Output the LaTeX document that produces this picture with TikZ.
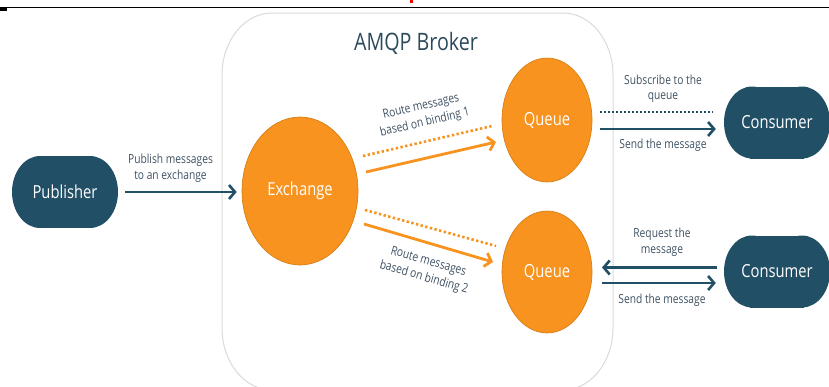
\documentclass[tikz,border=0pt]{standalone}
\usepackage{fontspec}
\setmainfont{Open Sans}[FakeStretch=0.82]
\usetikzlibrary{arrows.meta,shapes.geometric,calc}
\definecolor{teal1}{HTML}{214F66}
\definecolor{titlec}{HTML}{2B4A5C}
\definecolor{orng}{HTML}{F7931E}
\definecolor{orngdark}{HTML}{D27A12}
\definecolor{lbl}{HTML}{3E5163}
\definecolor{brk}{HTML}{DADADA}
\begin{document}
\begin{tikzpicture}[x=1pt,y=-1pt,
  lab/.style={text=lbl, font=\fontsize{12.5}{15.5}\selectfont, align=center, inner sep=0pt},
  rlab/.style={lab, font=\fontsize{12.5}{16.5}\selectfont},
  big/.style={font=\fontsize{18}{20}\selectfont},
  stadium/.style={rectangle, minimum width=106pt, minimum height=72pt, inner sep=0pt,
    text=white, big, fill=white,
    path picture={
      \fill[teal1] ($(path picture bounding box.west)+(28pt,0pt)$) ellipse [x radius=28pt, y radius=36pt];
      \fill[teal1] ($(path picture bounding box.east)+(-28pt,0pt)$) ellipse [x radius=28pt, y radius=36pt];
      \fill[teal1] ($(path picture bounding box.south west)+(26pt,0pt)$) rectangle ($(path picture bounding box.north east)+(-26pt,0pt)$);
    }},
  blob/.style={ellipse, fill=orng, draw=orngdark, line width=0.6pt, text=white, big, inner sep=0pt},
  tarrow/.style={draw=teal1, line width=2.6pt, -{Straight Barb[length=6pt,width=14pt]}},
  tdots/.style={draw=teal1, line width=2.6pt, dash pattern=on 2pt off 2pt},
  oarrow/.style={draw=orng, line width=2.8pt, -{Straight Barb[length=6pt,width=14pt]}},
  odots/.style={draw=orng, line width=2.6pt, dash pattern=on 2.4pt off 2.4pt},
]
\useasboundingbox (0,0) rectangle (829,386);
\clip (0,0) rectangle (829,386);

% top rule
\draw[line width=1.5pt] (0,7.5) -- (829,7.5);
\fill (0,8) rectangle (7,10.5);
\fill[red] (410,0) rectangle (412.5,3);

% broker box
\draw[brk, line width=1pt] (222,75) -- (222,328)
  arc[start angle=180, end angle=270, x radius=50pt, y radius=62pt]
  -- (563,390)
  arc[start angle=270, end angle=360, x radius=50pt, y radius=62pt]
  -- (613,75)
  arc[start angle=0, end angle=90, x radius=50pt, y radius=62pt]
  -- (272,13)
  arc[start angle=90, end angle=180, x radius=50pt, y radius=62pt];
\node[text=titlec, font=\fontsize{24}{28}\selectfont, inner sep=0pt] (title) at (416,43) {AMQP Broker};

% nodes
\node[stadium] (pub) at (65,192) {Publisher};
\node[blob, minimum width=116pt, minimum height=148pt] (exch) at (300,191) {Exchange};
\node[blob, minimum width=90pt, minimum height=124pt] (q1) at (547,120) {Queue};
\node[blob, minimum width=90pt, minimum height=122pt] (q2) at (547,272) {Queue};
\node[stadium] (c1) at (777,122.5) {Consumer};
\node[stadium] (c2) at (777,271.5) {Consumer};

% publisher -> exchange
\draw[tarrow] ([xshift=7pt]pub.east) -- ([xshift=-5pt]pub.east -| exch.west);
\node[lab] (lpub) at (170.5,168) {Publish messages\\to an exchange};

% exchange -> queues
\draw[odots] ($(exch.center)+(63,-35)$) -- ($(q1.center)+(-55,6)$);
\draw[oarrow] ($(exch.center)+(66,-19)$) -- ($(q1.center)+(-51,22)$);
\node[rlab, rotate=13] (l1) at (423,115) {Route messages\\based on binding 1};
\draw[odots] ($(exch.center)+(65,19)$) -- ($(q2.center)+(-51,-26)$);
\draw[oarrow] ($(exch.center)+(64,33)$) -- ($(q2.center)+(-54,-10)$);
\node[rlab, rotate=-16] (l2) at (426,270) {Route messages\\based on binding 2};

% queue 1 <-> consumer 1
\draw[tdots] ($(q1.center)+(53,-8)$) -- ($(c1.west)+(-11,-10.5)$);
\draw[tarrow] ($(q1.center)+(53,9)$) -- ($(c1.west)+(-8,6.5)$);
\node[lab] (lsub) at (663,88.5) {Subscribe to the\\queue};
\node[lab] (ls1) at (663,145.5) {Send the message};

% queue 2 <-> consumer 2
\draw[tarrow] ($(c2.west)+(-7,-4)$) -- ($(q2.center)+(55,-4.5)$);
\draw[tarrow] ($(q2.center)+(55,11)$) -- ($(c2.west)+(-8,11.5)$);
\node[lab] (lreq) at (662,242) {Request the\\message};
\node[lab] (ls2) at (662,300.5) {Send the message};
\end{tikzpicture}
\end{document}
